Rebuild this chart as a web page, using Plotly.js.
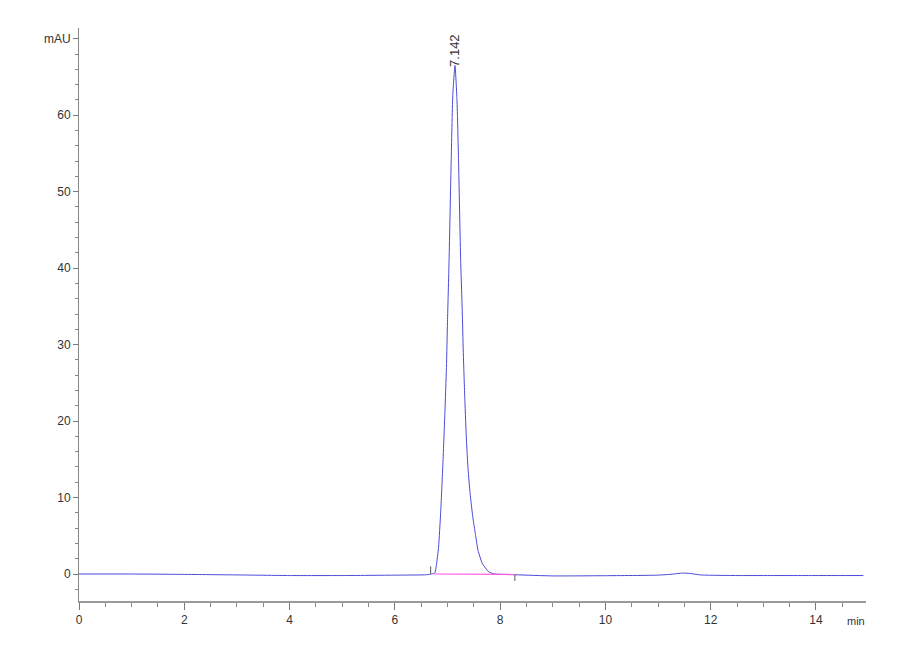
<!DOCTYPE html>
<html>
<head>
<meta charset="utf-8">
<script src="https://cdn.plot.ly/plotly-3.0.1.min.js"></script>
<style>html,body{margin:0;padding:0;background:#fff;}#chart{width:900px;height:660px;}</style>
</head>
<body>
<div id="chart"></div>
<script>
// Chromatogram signal (time in min, absorbance in mAU)
var timeMin = [0, 1, 2, 3, 4, 5, 6, 6.6, 6.7, 6.76, 6.79, 6.83, 6.87, 6.91, 6.95, 6.98, 7.0, 7.03, 7.07, 7.1, 7.142, 7.18, 7.21, 7.25, 7.28, 7.3, 7.33, 7.36, 7.39, 7.43, 7.48, 7.53, 7.58, 7.66, 7.78, 7.9, 8.3, 9, 10, 11, 11.3, 11.45, 11.6, 11.8, 12.5, 13, 14, 14.9];
var signalMAU = [0, 0, -0.05, -0.12, -0.2, -0.2, -0.15, -0.1, 0, 0.15, 1.2, 3.5, 8, 14, 21, 27, 33, 41, 54, 62.5, 66.5, 62, 54, 41, 34.5, 29, 22.7, 17.5, 13.8, 10.5, 7.5, 5.2, 3.1, 1.4, 0.3, 0, -0.1, -0.25, -0.22, -0.15, 0, 0.12, 0.08, -0.12, -0.2, -0.2, -0.2, -0.2];
// Integration baseline
var baseTime = [6.75, 8.28];
var baseMAU = [0.0, -0.05];
// Peak annotation
var peakRT = 7.142;
var peakHeight = 66.5;
var peakLabel = "7.142";
// Axis ticks
var yTickVals = [0, 10, 20, 30, 40, 50, 60, 70];
var yTickText = ["0", "10", "20", "30", "40", "50", "60", "mAU"];
var xTickVals = [0, 2, 4, 6, 8, 10, 12, 14];

var traces = [
  {x: timeMin, y: signalMAU, mode: 'lines', line: {color: '#4a4ad8', width: 1, shape: 'spline', smoothing: 0.5}, hoverinfo: 'x+y'},
  {x: baseTime, y: baseMAU, mode: 'lines', line: {color: '#ff55dd', width: 1.2}, hoverinfo: 'skip'},
  {x: [baseTime[0] - 0.07, baseTime[0] - 0.07], y: [0, 1.0], mode: 'lines', line: {color: '#555', width: 1}, hoverinfo: 'skip'},
  {x: [baseTime[1], baseTime[1]], y: [-0.1, -0.9], mode: 'lines', line: {color: '#555', width: 1}, hoverinfo: 'skip'}
];

var layout = {
  width: 900, height: 660,
  margin: {l: 79, r: 34, t: 28, b: 59},
  paper_bgcolor: '#fff', plot_bgcolor: '#fff',
  showlegend: false,
  font: {family: 'Liberation Sans, Arial, sans-serif', size: 12, color: '#333'},
  xaxis: {
    range: [0, 14.95], showgrid: false, zeroline: false,
    showline: true, linecolor: '#9a9a9a', linewidth: 2,
    ticks: 'outside', ticklen: 7, tickcolor: '#777', tickwidth: 1,
    tickvals: xTickVals, tickfont: {size: 12, color: '#333'},
    minor: {dtick: 0.5, ticks: 'outside', ticklen: 4, tickcolor: '#888', showgrid: false},
    fixedrange: true
  },
  yaxis: {
    range: [-3.53, 71.4], showgrid: false, zeroline: false,
    showline: true, linecolor: '#888', linewidth: 1,
    ticks: 'outside', ticklen: 5, tickcolor: '#777',
    tickvals: yTickVals, ticktext: yTickText, tickfont: {size: 12, color: '#333'},
    minor: {dtick: 2, ticks: 'outside', ticklen: 3, tickcolor: '#888', showgrid: false},
    fixedrange: true
  },
  annotations: [
    {x: peakRT, y: peakHeight, xref: 'x', yref: 'y', text: peakLabel, showarrow: false,
     textangle: -90, xanchor: 'center', yanchor: 'bottom', yshift: -3, font: {size: 13, color: '#333'}},
    {x: 1, y: 0, xref: 'paper', yref: 'paper', text: 'min', showarrow: false,
     xanchor: 'right', yanchor: 'top', xshift: 1, yshift: -12, font: {size: 11, color: '#333'}}
  ]
};

Plotly.newPlot('chart', traces, layout, {displayModeBar: false, staticPlot: true});
</script>
</body>
</html>
